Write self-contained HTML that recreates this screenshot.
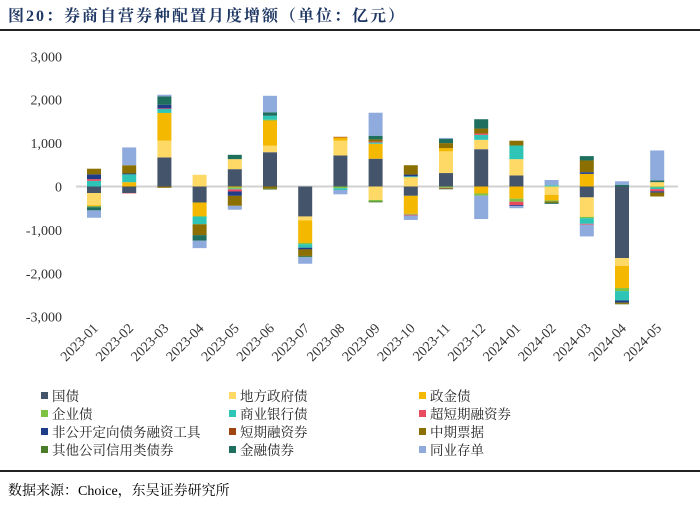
<!DOCTYPE html>
<html><head><meta charset="utf-8">
<style>
body{margin:0;background:#fff;width:700px;height:506px;overflow:hidden;font-family:"Liberation Serif","Noto Serif CJK SC",serif;}
#title{position:absolute;left:8px;top:3px;font-size:16px;font-weight:bold;color:#1f3864;font-family:"Liberation Serif","Noto Serif CJK SC",serif;letter-spacing:2px}
#topline{position:absolute;left:0;top:29px;width:700px;height:2px;background:#222}
#botline{position:absolute;left:0;top:470px;width:700px;height:2px;background:#222}
#source{position:absolute;left:8px;top:480px;font-size:14px;color:#000}
svg{position:absolute;left:0;top:0}
</style></head><body>
<div id="title">图20：券商自营券种配置月度增额（单位：亿元）</div>
<div id="topline"></div>
<svg id="chart" width="700" height="506"></svg>
<div id="botline"></div>
<div id="source">数据来源：Choice，东吴证券研究所</div>
<script>
const categories=["2023-01","2023-02","2023-03","2023-04","2023-05","2023-06","2023-07","2023-08","2023-09","2023-10","2023-11","2023-12","2024-01","2024-02","2024-03","2024-04","2024-05"];
const seriesNames=["国债","地方政府债","政金债","企业债","商业银行债","超短期融资券","非公开定向债务融资工具","短期融资券","中期票据","其他公司信用类债券","金融债券","同业存单"];
const seriesColors=["#44546a","#ffd966","#f4b800","#7dc242","#2ec4b6","#e84a5f","#1f3c88","#a0450f","#8b6f00","#4a7c2a","#1f6f5f","#8faadc"];
const guozhai=[-150,-150,670,-370,400,790,-690,715,640,-215,310,860,255,0,-250,-1650,0];
const difang=[-280,0,385,270,230,150,-90,340,-310,215,500,215,375,-190,-450,-180,100];
const zhengjin=[-20,100,640,-310,-20,580,-520,75,345,-415,75,-160,-280,-130,290,-510,0];
const qiye=[-15,0,0,-20,-30,20,-30,-40,-30,-20,-30,-50,-70,-20,-30,-70,-20];
const shangyin=[130,180,90,-170,-15,90,-80,-40,30,20,0,115,315,30,-130,-215,-40];
const chaoduan=[40,-10,15,0,-50,0,0,0,20,-20,-15,30,-80,0,-20,0,-50];
const feigongkai=[110,20,85,0,-100,0,-40,0,0,40,0,0,-20,0,40,-50,-30];
const duanrong=[0,0,0,0,0,0,0,15,0,0,0,0,0,0,0,0,0];
const zhongpiao=[130,190,-30,-250,-230,-50,-150,0,50,215,115,115,110,-30,270,-30,-90];
const qita=[-15,0,0,0,0,-20,-15,0,-25,0,-20,0,0,-10,0,-10,0];
const jinrong=[-70,0,190,-130,100,80,-15,0,85,0,100,215,0,-20,100,40,40];
const tongye=[-170,410,40,-170,-90,380,-150,-100,530,-100,20,-540,-50,120,-270,80,690];
const seriesData=[guozhai,difang,zhengjin,qiye,shangyin,chaoduan,feigongkai,duanrong,zhongpiao,qita,jinrong,tongye];
const yTicks=[3000,2000,1000,0,-1000,-2000,-3000];
const yTickLabels=["3,000","2,000","1,000","0","-1,000","-2,000","-3,000"];

const NS="http://www.w3.org/2000/svg";
const svg=document.getElementById('chart');
const y0=186.5, pxPer=43.4/1000;
function yScale(v){return y0-v*pxPer;}
const x0=94, step=35.2, bw=14;
function xScale(i){return x0+i*step;}
function mk(tag,attrs){const e=document.createElementNS(NS,tag);for(const k in attrs)e.setAttribute(k,attrs[k]);svg.appendChild(e);return e;}

yTicks.forEach((t,i)=>{
  const tx=mk('text',{x:62,y:yScale(t)+5,'text-anchor':'end','font-size':'14','fill':'#333','font-family':'Liberation Serif,serif'});
  tx.textContent=yTickLabels[i];
  
  
});
const zl=mk('line',{x1:76,x2:678,y1:yScale(0),y2:yScale(0),stroke:'#d0d0d0','stroke-width':2});



categories.forEach((c,i)=>{
  let pos=0,neg=0;
  seriesData.forEach((arr,s)=>{
    const v=arr[i]; if(!v)return;
    let top,h;
    if(v>0){top=yScale(pos+v);h=yScale(pos)-top;pos+=v;}
    else{top=yScale(neg);h=yScale(neg+v)-top;neg+=v;}
    const r=mk('rect',{x:xScale(i)-bw/2,y:top,width:bw,height:h,fill:seriesColors[s]});
    
    
  });
  const cx=xScale(i)+5, cy=329;
  const t=mk('text',{x:cx,y:cy,'text-anchor':'end','font-size':'14','fill':'#333','font-family':'Liberation Serif,serif',transform:`rotate(-45 ${cx} ${cy})`});
  t.textContent=c;
  
  
});

const colX=[44,232,422], rowY=[396,414,432,450];
seriesNames.forEach((n,s)=>{
  const x=colX[s%3], y=rowY[Math.floor(s/3)];
  const r=mk('rect',{x:x-3,y:y-4,width:7,height:7,fill:seriesColors[s]});
  
  
  const t=mk('text',{x:x+8,y:y+5,'font-size':'13.5','fill':'#222','font-family':'Liberation Serif,Noto Serif CJK SC,serif'});
  t.textContent=n;
  
  
});
</script>
</body></html>
